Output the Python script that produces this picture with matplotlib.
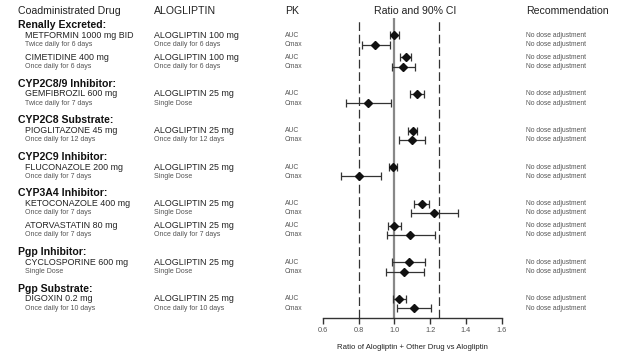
import matplotlib
matplotlib.use("Agg")
import matplotlib.pyplot as plt

plt.rcParams['font.family'] = ['Liberation Sans', 'DejaVu Sans']

# ---- data ----
groups = ["Renally Excreted:", "CYP2C8/9 Inhibitor:", "CYP2C8 Substrate:", "CYP2C9 Inhibitor:",
          "CYP3A4 Inhibitor:", "Pgp Inhibitor:", "Pgp Substrate:"]
group_sizes = [2, 1, 1, 1, 2, 1, 1]
drugs = ["METFORMIN 1000 mg BID", "CIMETIDINE 400 mg", "GEMFIBROZIL 600 mg", "PIOGLITAZONE 45 mg",
         "FLUCONAZOLE 200 mg", "KETOCONAZOLE 400 mg", "ATORVASTATIN 80 mg", "CYCLOSPORINE 600 mg",
         "DIGOXIN 0.2 mg"]
drug_regimens = ["Twice daily for 6 days", "Once daily for 6 days", "Twice daily for 7 days",
                 "Once daily for 12 days", "Once daily for 7 days", "Once daily for 7 days",
                 "Once daily for 7 days", "Single Dose", "Once daily for 10 days"]
alo_doses = ["ALOGLIPTIN 100 mg", "ALOGLIPTIN 100 mg", "ALOGLIPTIN 25 mg", "ALOGLIPTIN 25 mg",
             "ALOGLIPTIN 25 mg", "ALOGLIPTIN 25 mg", "ALOGLIPTIN 25 mg", "ALOGLIPTIN 25 mg",
             "ALOGLIPTIN 25 mg"]
alo_regimens = ["Once daily for 6 days", "Once daily for 6 days", "Single Dose", "Once daily for 12 days",
                "Single Dose", "Single Dose", "Once daily for 7 days", "Single Dose",
                "Once daily for 10 days"]
pk_params = ["AUC", "Cmax"]
recommendation = "No dose adjustment"
auc_ratio = [1.00, 1.065, 1.128, 1.102, 0.991, 1.155, 1.00, 1.082, 1.026]
auc_lo = [0.974, 1.034, 1.089, 1.076, 0.968, 1.112, 0.963, 0.989, 0.993]
auc_hi = [1.028, 1.095, 1.168, 1.128, 1.017, 1.196, 1.037, 1.173, 1.063]
cmax_ratio = [0.894, 1.047, 0.851, 1.097, 0.803, 1.222, 1.086, 1.054, 1.108]
cmax_lo = [0.819, 0.985, 0.732, 1.024, 0.702, 1.093, 0.961, 0.952, 1.015]
cmax_hi = [0.978, 1.117, 0.980, 1.173, 0.924, 1.356, 1.227, 1.168, 1.207]
xticks = [0.6, 0.8, 1.0, 1.2, 1.4, 1.6]
ref_lines = [0.8, 1.25]

# ---- layout (pixel rows) ----
W, H = 642, 362
header_y = []
auc_y = []
y = 25.0
for gi, n in enumerate(group_sizes):
    header_y.append(y)
    y += 10.3
    for k in range(n):
        auc_y.append(y)
        if k < n - 1:
            y += 22.0
    y += 26.3
cmax_y = [v + 9.2 for v in auc_y]

fig = plt.figure(figsize=(W / 100, H / 100), dpi=100)
fig.patch.set_facecolor('white')

# text layer
tx = fig.add_axes([0, 0, 1, 1])
tx.set_xlim(0, W)
tx.set_ylim(H, 0)
tx.axis('off')

dark = '#222222'
gray = '#555555'
hdr = dict(fontsize=7.6, color=dark, va='center')
tx.text(18, 11, "Coadministrated Drug", **hdr)
tx.text(154, 11, "ALOGLIPTIN", **hdr)
tx.text(285, 11, "PK", **hdr)
tx.text(415, 11, "Ratio and 90% CI", ha='center', **hdr)
tx.text(526, 11, "Recommendation", **hdr)

for g, gy in zip(groups, header_y):
    tx.text(18, gy, g, fontsize=7.6, fontweight='bold', color='#111111', va='center')

for i in range(len(drugs)):
    tx.text(25, auc_y[i], drugs[i], fontsize=6.4, color=dark, va='center')
    tx.text(25, cmax_y[i], drug_regimens[i], fontsize=5.0, color=gray, va='center')
    tx.text(154, auc_y[i], alo_doses[i], fontsize=6.4, color=dark, va='center')
    tx.text(154, cmax_y[i], alo_regimens[i], fontsize=5.0, color=gray, va='center')
    tx.text(285, auc_y[i], pk_params[0], fontsize=4.9, color=gray, va='center')
    tx.text(285, cmax_y[i], pk_params[1], fontsize=4.9, color=gray, va='center')
    tx.text(526, auc_y[i], recommendation, fontsize=4.9, color=gray, va='center')
    tx.text(526, cmax_y[i], recommendation, fontsize=4.9, color=gray, va='center')

# forest layer
x0, x1 = 322.7, 501.7
ytop, ybot = 18.0, 318.3
ax = fig.add_axes([x0 / W, (H - ybot) / H, (x1 - x0) / W, (ybot - ytop) / H])
ax.patch.set_alpha(0)
ax.set_xlim(0.6, 1.6)
ax.set_ylim(ybot, ytop)
for s in ['top', 'left', 'right']:
    ax.spines[s].set_visible(False)
ax.spines['bottom'].set_color('#333333')
ax.spines['bottom'].set_linewidth(1.0)
ax.set_yticks([])
ax.set_xticks(xticks)
ax.set_xticklabels([f"{t:.1f}" for t in xticks])
ax.tick_params(axis='x', direction='out', length=4, width=1.0, color='#333333',
               labelsize=5.3, labelcolor=gray, pad=2.5)
ax.set_xlabel("Ratio of Alogliptin + Other Drug vs Alogliptin", fontsize=5.6, color=dark, labelpad=7)

ax.axvline(1.0, color='#888888', lw=1.6, zorder=1)
for r in ref_lines:
    ax.axvline(r, color='#333333', lw=0.9, ls=(0, (7, 3)), zorder=1)

for ratio, lo, hi, yy in [(auc_ratio, auc_lo, auc_hi, auc_y), (cmax_ratio, cmax_lo, cmax_hi, cmax_y)]:
    for i in range(len(ratio)):
        ax.errorbar(ratio[i], yy[i], xerr=[[ratio[i] - lo[i]], [hi[i] - ratio[i]]],
                    fmt='D', color='#111111', ms=3.6, ecolor='#333333', elinewidth=0.9,
                    capsize=2.6, capthick=0.9, zorder=3)

fig.savefig("out.png", dpi=100, facecolor='white')
